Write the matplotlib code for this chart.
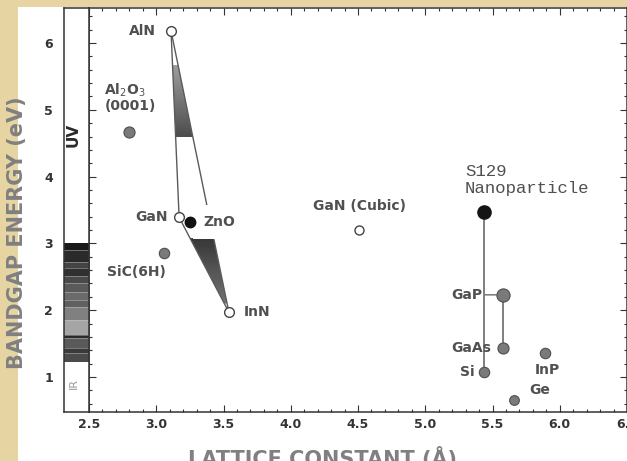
import numpy as np
import matplotlib.pyplot as plt
from matplotlib.patches import Polygon, Rectangle

plt.rcParams['font.family'] = ['DejaVu Sans']

# nitride end members (open circles): lattice constant (Å), bandgap (eV)
nitride_names = ['AlN', 'GaN', 'InN']
nitride_a = [3.11, 3.17, 3.54]
nitride_eg = [6.18, 3.39, 1.97]

cubic_name = 'GaN (Cubic)'
cubic_a = 4.51
cubic_eg = 3.20

# substrates and common semiconductors (grey dots)
other_names = ['Al$_2$O$_3$\n(0001)', 'SiC(6H)', 'GaP', 'GaAs', 'Si', 'InP', 'Ge']
other_a = [2.80, 3.06, 5.58, 5.58, 5.44, 5.89, 5.66]
other_eg = [4.67, 2.86, 2.23, 1.43, 1.07, 1.36, 0.66]
other_size = [8, 7.5, 9.5, 8, 7.5, 7.5, 7]

# black dots
zno_a, zno_eg = 3.25, 3.32
s129_a, s129_eg = 5.44, 3.47

# visible spectrum strip: band edges (eV) and grey level of each band
spec_edges = [3.00, 2.90, 2.72, 2.63, 2.51, 2.41, 2.27, 2.15, 2.05,
              1.85, 1.63, 1.58, 1.43, 1.36, 1.22]
spec_grey = ['#1a1a1a', '#2a2a2a', '#444444', '#303030', '#4a4a4a', '#5a5a5a',
             '#6a6a6a', '#606060', '#808080', '#a5a5a5', '#2a2a2a', '#5a5a5a',
             '#3a3a3a', '#4a4a4a']

# shaded emission ranges between the alloy lines
upper_band = (5.67, 4.59)
lower_band = (3.08, 2.10)

xticks = [2.5, 3.0, 3.5, 4.0, 4.5, 5.0, 5.5, 6.0, 6.5]
yticks = [1, 2, 3, 4, 5, 6]

W, H = 627, 461
fig = plt.figure(figsize=(W / 100, H / 100), dpi=100, facecolor='#e6d5a2')
fig.patches.append(Rectangle((18 / W, 0), 1, 1 - 7 / H, transform=fig.transFigure,
                             facecolor='white', edgecolor='none', zorder=-5))

bottom, top = 49 / H, 1 - 8 / H
ax = fig.add_axes([89 / W, bottom, 1 - 89 / W, top - bottom])
sp = fig.add_axes([64 / W, bottom, 25 / W, top - bottom])
ax.patch.set_alpha(0)

ink = '#333333'
label_col = '#505050'

# ---- spectrum strip ----
for i, g in enumerate(spec_grey):
    sp.axhspan(spec_edges[i + 1], spec_edges[i], color=g, lw=0)
for e in spec_edges[1:-1]:
    sp.axhline(e, color='#cfcfcf', lw=0.5, alpha=0.6)
sp.set_xlim(0, 1)
sp.set_ylim(0.476, 6.524)
sp.set_xticks([])
sp.set_yticks(yticks)
sp.set_yticklabels([str(v) for v in yticks], fontsize=9, fontweight='bold', color=ink)
sp.tick_params(axis='y', length=0, pad=8)
sp.text(0.38, 4.63, 'UV', rotation=90, ha='center', va='center',
        fontsize=11, fontweight='bold', color='#2a2a2a')
sp.text(0.4, 0.91, 'IR', rotation=90, ha='center', va='center',
        fontsize=8, color='#999999')
for s in sp.spines.values():
    s.set_color(ink)
    s.set_linewidth(1.1)

# ---- main panel ----
aln = (nitride_a[0], nitride_eg[0])
gan = (nitride_a[1], nitride_eg[1])
inn = (nitride_a[2], nitride_eg[2])


def x_on(p, q, e):
    return p[0] + (q[0] - p[0]) * (e - p[1]) / (q[1] - p[1])


def shade(p, q, r, e_top, e_bot, c_top, c_bot):
    # fill between lines p-q and p-r with a vertical grey gradient
    verts = [(x_on(p, q, e_top), e_top), (x_on(p, r, e_top), e_top),
             (x_on(p, r, e_bot), e_bot), (x_on(p, q, e_bot), e_bot)]
    poly = Polygon(verts, closed=True, facecolor='none', edgecolor='none')
    ax.add_patch(poly)
    xs = [v[0] for v in verts]
    grad = np.linspace(c_top, c_bot, 64).reshape(-1, 1)
    im = ax.imshow(grad, extent=[min(xs), max(xs), e_bot, e_top], cmap='gray',
                   vmin=0, vmax=1, aspect='auto', origin='upper', zorder=1)
    im.set_clip_path(poly)


shade(aln, gan, inn, upper_band[0], upper_band[1], 0.62, 0.30)
shade(inn, gan, aln, lower_band[0], lower_band[1], 0.22, 0.45)

line_kw = dict(color='#5a5a5a', lw=1.0, zorder=2)
ax.plot([aln[0], gan[0]], [aln[1], gan[1]], **line_kw)
ax.plot([gan[0], inn[0]], [gan[1], inn[1]], **line_kw)
ax.plot([aln[0], inn[0]], [aln[1], inn[1]], **line_kw)

# tie lines for the nanoparticle and GaP/GaAs
ax.plot([s129_a, other_a[4]], [s129_eg, other_eg[4]], color='#6a6a6a', lw=1.2, zorder=2)
ax.plot([other_a[2], other_a[3]], [other_eg[2], other_eg[3]], color='#6a6a6a', lw=1.2, zorder=2)

ax.plot(nitride_a, nitride_eg, 'o', ms=7, mfc='white', mec='#444444', mew=1.0, ls='none', zorder=5)
ax.plot([cubic_a], [cubic_eg], 'o', ms=6.5, mfc='white', mec='#444444', mew=1.0, zorder=5)
for a, e, s in zip(other_a, other_eg, other_size):
    ax.plot([a], [e], 'o', ms=s, mfc='#7a7a7a', mec='#4f4f4f', mew=0.8, zorder=5)
ax.plot([zno_a], [zno_eg], 'o', ms=7.5, mfc='#111111', mec='#111111', zorder=6)
ax.plot([s129_a], [s129_eg], 'o', ms=9.5, mfc='#151515', mec='#151515', zorder=6)

txt = dict(fontsize=10, fontweight='bold', color=label_col, textcoords='offset points')
ax.annotate('AlN', aln, xytext=(-11, 0), ha='right', va='center', **txt)
ax.annotate('GaN', gan, xytext=(-8, 0), ha='right', va='center', **txt)
ax.annotate('InN', inn, xytext=(11, 0), ha='left', va='center', **txt)
ax.annotate('ZnO', (zno_a, zno_eg), xytext=(10, 0), ha='left', va='center', zorder=4,
            bbox=dict(boxstyle='square,pad=0.75', fc='white', ec='none'), **txt)
ax.annotate(cubic_name, (cubic_a, cubic_eg), xytext=(0, 17), ha='center', va='center', **txt)

other_offsets = [(-18, 25, 'left'), (1, -14, 'right'), (-15, 0, 'right'),
                 (-9, 0, 'right'), (-7, 0, 'right'), (-7, -12, 'left'), (11, 7, 'left')]
for name, a, e, (dx, dy, ha) in zip(other_names, other_a, other_eg, other_offsets):
    kw = dict(txt)
    if name == 'GaP':
        kw['arrowprops'] = dict(arrowstyle='-', color='#6a6a6a', lw=1.0,
                                shrinkA=0, shrinkB=5)
    ax.annotate(name, (a, e), xytext=(dx, dy), ha=ha, va='center',
                linespacing=1.05, **kw)

ax.annotate('S129\nNanoparticle', (s129_a, s129_eg), xytext=(-14, 23),
            textcoords='offset points', ha='left', va='center', fontsize=12.5,
            family='Liberation Mono', color='#505050', linespacing=1.1)

ax.set_xlim(2.5, 6.474)
ax.set_ylim(0.476, 6.524)
ax.set_xticks(xticks)
ax.set_xticklabels([f'{v:.1f}' for v in xticks], fontsize=9, fontweight='bold', color=ink)
ax.set_xticks(np.arange(2.5, 6.5, 0.1), minor=True)
ax.set_yticks(yticks)
ax.set_yticks(np.arange(0.6, 6.5, 0.2), minor=True)
ax.set_yticklabels([])
ax.tick_params(which='both', direction='in', top=True, right=True, color=ink, width=0.8)
ax.tick_params(which='major', length=5, pad=4)
ax.tick_params(which='minor', length=2.5)
for s in ax.spines.values():
    s.set_color(ink)
    s.set_linewidth(1.1)

fig.text(17 / W, 1 - 233 / H, 'BANDGAP ENERGY (eV)', rotation=90, ha='center', va='center',
         fontsize=15, fontweight='bold', color='#808080')
fig.text(323 / W, 1 - 447 / H, 'LATTICE CONSTANT (Å)', ha='center', va='top',
         fontsize=15, fontweight='bold', color='#808080')

fig.savefig('out.png', dpi=100, facecolor=fig.get_facecolor())
